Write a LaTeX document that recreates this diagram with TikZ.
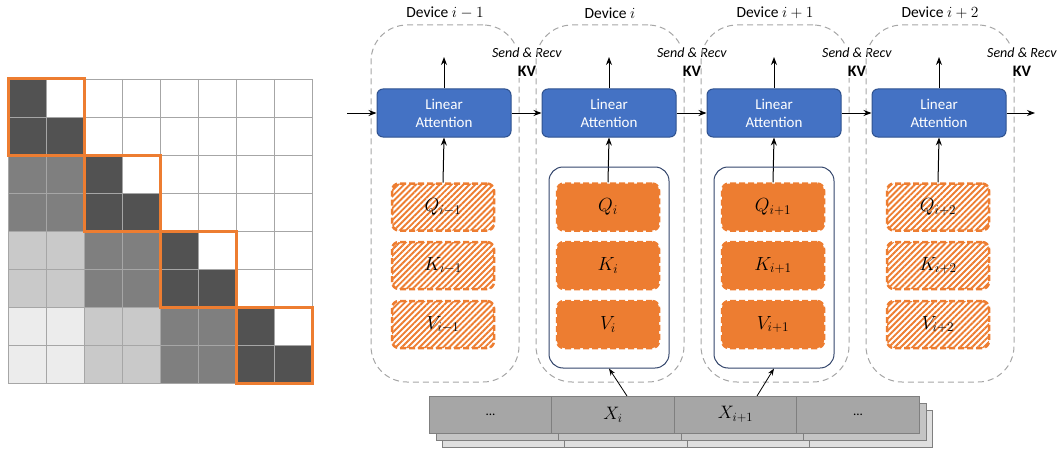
\documentclass[tikz,border=0pt]{standalone}
\usepackage{fix-cm}
\usepackage{fontspec}
\setmainfont{Carlito}
\usetikzlibrary{arrows.meta,patterns.meta}
\definecolor{orng}{HTML}{ED7D31}
\definecolor{blu}{HTML}{4472C4}
\definecolor{bluborder}{HTML}{2F528F}
\definecolor{navy}{HTML}{33456B}
\definecolor{dgray}{HTML}{525252}
\definecolor{mgray}{HTML}{7F7F7F}
\definecolor{lgray}{HTML}{C9C9C9}
\definecolor{vlgray}{HTML}{ECECEC}
\definecolor{gridc}{HTML}{A6A6A6}
\definecolor{devc}{HTML}{A6A6A6}
\begin{document}
\begin{tikzpicture}[x=1pt,y=-1pt,
  gridline/.style={draw=gridc, line width=0.9pt},
  devbox/.style={draw=devc, dash pattern=on 6pt off 4pt, line width=1pt, rounded corners=36pt, minimum width=148pt, minimum height=357pt, inner sep=0pt},
  devlabel/.style={font=\fontsize{15.5}{17}\selectfont, inner sep=1pt},
  srlabel/.style={fill=white, align=center, inner sep=2pt, font=\fontsize{14}{19}\selectfont},
  labox/.style={draw=bluborder, fill=blu, line width=1pt, rounded corners=6pt, minimum width=134pt, minimum height=48pt, align=center, text=white, font=\fontsize{15}{18}\selectfont, inner sep=0pt},
  qkvbase/.style={rounded corners=7pt, minimum width=102pt, minimum height=47pt, inner sep=0pt, font=\fontsize{19}{21}\selectfont, draw=orng, line width=2.5pt, dash pattern=on 6pt off 3pt},
  qkvhatch/.style={qkvbase, pattern={Lines[angle=45,distance=4.2pt,line width=1.9pt]}, pattern color=orng},
  qkvsolid/.style={qkvbase, fill=orng},
  wrap/.style={draw=navy, line width=1pt, rounded corners=14pt, minimum width=120pt, minimum height=201pt, inner sep=0pt},
  arr/.style={draw=black, line width=1pt, -{Stealth[length=8pt,width=6pt]}},
  arrthin/.style={draw=black, line width=0.8pt, -{Stealth[length=7pt,width=5pt]}},
  scell/.style={draw=mgray, line width=0.8pt, minimum width=122.5pt, minimum height=37pt, inner sep=0pt},
  s1/.style={scell, fill=gridc, font=\fontsize{18}{20}\selectfont},
  s2/.style={scell, fill=lgray!85!gridc},
  s3/.style={scell, fill=lgray!60!white},
]
\useasboundingbox (0,0) rectangle (1058,452);

% ---------- attention mask grid ----------
\fill[mgray] (8,155) rectangle (84,231);
\fill[mgray] (84,231) rectangle (160,307);
\fill[mgray] (160,307) rectangle (236,383);
\fill[lgray] (8,231) rectangle (84,307);
\fill[lgray] (84,307) rectangle (160,383);
\fill[vlgray] (8,307) rectangle (84,383);
\foreach \k in {0,1,2,3} {
  \fill[dgray] (8+76*\k,79+76*\k) rectangle (46+76*\k,155+76*\k);
  \fill[dgray] (46+76*\k,117+76*\k) rectangle (84+76*\k,155+76*\k);
}
\foreach \i in {0,...,8} {
  \draw[gridline] (8+38*\i,79) -- (8+38*\i,383);
  \draw[gridline] (8,79+38*\i) -- (312,79+38*\i);
}
\foreach \k in {0,1,2,3} {
  \draw[orng, line width=3pt] (8+76*\k,79+76*\k) rectangle (84+76*\k,155+76*\k);
}

% ---------- devices ----------
\foreach \n/\lab/\st in {0/{i-1}/qkvhatch,1/{i}/qkvsolid,2/{i+1}/qkvsolid,3/{i+2}/qkvhatch} {
  \pgfmathsetmacro\cx{445+165*\n}
  \node[devbox] (dev\n) at (\cx,203.5) {};
  \node[devlabel] (dl\n) at (\cx,13) {Device $\lab$};
  \node[srlabel] (sr\n) at (\cx+82,62) {\textit{Send \& Recv}\\\fontsize{16}{19}\selectfont\textbf{KV}};
  \node[labox] (la\n) at (\cx-1,113) {Linear\\Attention};
  \coordinate (up\n) at (\cx-1,57);
  \draw[arr] (la\n.north) -- (up\n);
  \node[\st] (q\n) at (\cx-2,207) {$Q_{\lab}$};
  \node[\st] (k\n) at (\cx-2,265.5) {$K_{\lab}$};
  \node[\st] (v\n) at (\cx-2,324.5) {$V_{\lab}$};
  \draw[arr] (q\n.north) -- (la\n.south);
}
\node[wrap] (w1) at (609,267.5) {};
\node[wrap] (w2) at (774,267.5) {};

\coordinate (in) at (347,113);
\coordinate (out) at (1035,113);
\draw[arr] (in) -- (la0.west);
\draw[arr] (la0.east) -- (la1.west);
\draw[arr] (la1.east) -- (la2.west);
\draw[arr] (la2.east) -- (la3.west);
\draw[arr] (la3.east) -- (out);

% ---------- input stack ----------
\foreach \j in {0,1,2,3} {
  \node[s3] (t\j) at (503.5+122.5*\j,429) {};
}
\foreach \j in {0,1,2,3} {
  \node[s2] (m\j) at (497.5+122.5*\j,422) {};
}
\node[s1] (x0) at (490.5,414.5) {\fontsize{13}{15}\selectfont ...};
\node[s1] (x1) at (613,414.5) {$X_i$};
\node[s1] (x2) at (735.5,414.5) {$X_{i+1}$};
\node[s1] (x3) at (858,414.5) {\fontsize{13}{15}\selectfont ...};

\coordinate (a1) at (627,396);
\coordinate (a2) at (757,396);
\draw[arrthin] (a1) -- (w1.south);
\draw[arrthin] (a2) -- (w2.south);
\end{tikzpicture}
\end{document}
